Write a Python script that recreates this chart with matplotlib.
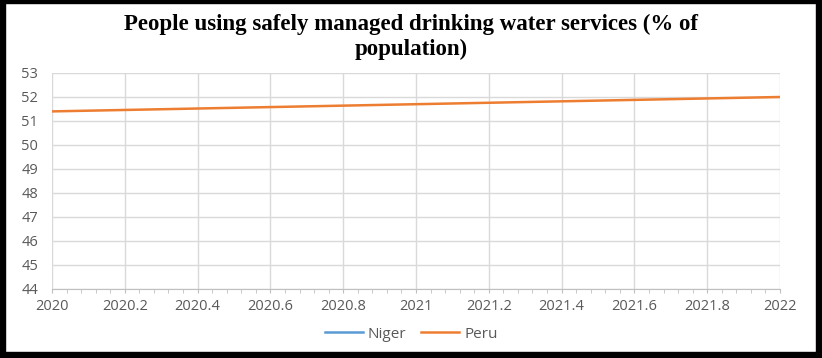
import numpy as np
import matplotlib
matplotlib.use("Agg")
import matplotlib.pyplot as plt
from matplotlib.patches import Rectangle
from matplotlib.ticker import FixedLocator

years = [2020, 2021, 2022]
niger = [np.nan, np.nan, np.nan]
peru = [51.4, 51.7, 52.0]
x_ticks = [2020, 2020.2, 2020.4, 2020.6, 2020.8, 2021, 2021.2, 2021.4, 2021.6, 2021.8, 2022]
y_ticks = [44, 45, 46, 47, 48, 49, 50, 51, 52, 53]
title = "People using safely managed drinking water services (% of\npopulation)"

fig = plt.figure(figsize=(8.22, 3.58), dpi=100)
W, H = 822, 358
ax = fig.add_axes([52 / W, 1 - 289 / H, (780 - 52) / W, (289 - 73) / H])

ax.plot(years, niger, color="#5B9BD5", lw=1.8, label="Niger")
ax.plot(years, peru, color="#ED7D31", lw=1.8, label="Peru")

ax.set_xlim(2020, 2022)
ax.set_ylim(44, 53)
ax.xaxis.set_major_locator(FixedLocator(x_ticks))
ax.xaxis.set_minor_locator(FixedLocator(np.linspace(2020, 2022, 51)))
ax.yaxis.set_major_locator(FixedLocator(y_ticks))
ax.set_xticklabels([f"{v:g}" for v in x_ticks])
ax.set_yticklabels([str(v) for v in y_ticks])
ax.grid(True, which="major", color="#D9D9D9", lw=1)
ax.set_axisbelow(True)
for s in ["top", "right", "left"]:
    ax.spines[s].set_visible(False)
ax.spines["bottom"].set_color("#BFBFBF")
ax.tick_params(axis="x", which="major", length=3, color="#BFBFBF", labelsize=10.5,
               labelcolor="#595959", pad=4)
ax.tick_params(axis="x", which="minor", length=3, color="#BFBFBF")
ax.tick_params(axis="y", length=0, labelsize=10.5, labelcolor="#595959", pad=10)
for lab in ax.get_xticklabels() + ax.get_yticklabels():
    lab.set_fontfamily("Open Sans")

fig.text(0.5, 1 - 37 / H, title, ha="center", va="center", fontsize=16.5,
         fontweight="bold", family="Liberation Serif", linespacing=1.2)

leg = fig.legend(loc="center", bbox_to_anchor=(0.5, 1 - 334 / H), ncol=2, frameon=False,
                 prop={"family": "Open Sans", "size": 11}, handlelength=2.5,
                 columnspacing=1.0, handletextpad=0.3)
for t in leg.get_texts():
    t.set_color("#595959")

# outer frame
fig.patches.append(Rectangle((0, 0), 5 / W, 1, transform=fig.transFigure, color="black"))
fig.patches.append(Rectangle((0, 1 - 3 / H), 1, 3 / H, transform=fig.transFigure, color="black"))
fig.patches.append(Rectangle((816 / W, 0), 6 / W, 1, transform=fig.transFigure, color="black"))
fig.patches.append(Rectangle((0, 0), 1, 6 / H, transform=fig.transFigure, color="black"))

fig.savefig("out.png", dpi=100)
